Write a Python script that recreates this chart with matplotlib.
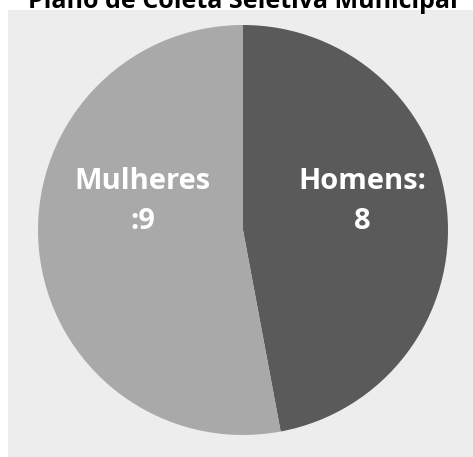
import matplotlib

matplotlib.use("Agg")
import matplotlib.pyplot as plt

TITLE = "Plano de Coleta Seletiva Municipal"
LABELS = ["Homens:\n8", "Mulheres\n:9"]
VALUES = [8, 9]
COLORS = ["#5a5a5a", "#a9a9a9"]

W, H = 473, 457
FONT = ["Open Sans", "DejaVu Sans"]
fig = plt.figure(figsize=(W / 100, H / 100), dpi=100)
fig.patch.set_facecolor("white")

# light grey chart area behind the pie
bg = fig.add_axes([8 / W, 0, 465 / W, 447 / H], zorder=0)
bg.set_facecolor("#ededed")
bg.set_xticks([])
bg.set_yticks([])
for s in bg.spines.values():
    s.set_visible(False)

fig.text(243 / W, 1.0 - 8 / H, TITLE, ha="center", va="baseline",
         fontsize=18, fontweight="bold", family=FONT)

ax = fig.add_axes([38 / W, 22 / H, 410 / W, 410 / H], zorder=1)
ax.pie(VALUES, colors=COLORS, startangle=90, counterclock=False,
       radius=1.0, wedgeprops=dict(linewidth=0))
ax.set_xlim(-1, 1)
ax.set_ylim(-1, 1)
ax.set_aspect("equal")
ax.axis("off")

label_pos = [(0.58, 0.14), (-0.49, 0.14)]
for lab, (x, y) in zip(LABELS, label_pos):
    ax.text(x, y, lab, ha="center", va="center", color="white",
            fontsize=21, fontweight="bold", family=FONT,
            linespacing=1.5)

fig.savefig("out.png", dpi=100)
